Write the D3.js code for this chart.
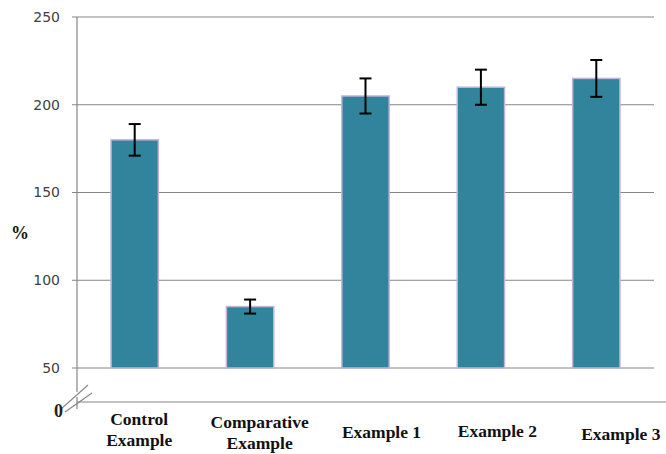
<!DOCTYPE html>
<html><head><meta charset="utf-8">
<script src="https://cdn.jsdelivr.net/npm/d3@7"></script>
<style>body{margin:0;background:#fff}svg{display:block}</style>
</head><body>
<svg id="c" width="666" height="454"></svg>
<script>
const categories = [["Control","Example"],["Comparative","Example"],["Example 1"],["Example 2"],["Example 3"]];
const values = [180, 85, 205, 210, 215];
const errors = [9, 4, 10, 10, 10.5];
const yTicks = [50, 100, 150, 200, 250];

const svg = d3.select("#c");
const W = 666, H = 454;
const x0 = 77, x1 = 654;
const y = d3.scaleLinear().domain([50, 250]).range([368, 17]);
const x = d3.scaleBand().domain(d3.range(categories.length)).range([x0, x1]).paddingInner(0.59).paddingOuter(0.295);
const grid = "#868686";

// gridlines
svg.append("g").selectAll("line").data(yTicks).join("line")
  .attr("x1", x0 - 5).attr("x2", x1).attr("y1", d => y(d)).attr("y2", d => y(d))
  .attr("stroke", grid).attr("stroke-width", 1.2);
// tick labels
svg.append("g").selectAll("text").data(yTicks).join("text")
  .attr("x", 60).attr("y", d => y(d)).attr("dy", "0.35em").attr("text-anchor", "end")
  .attr("font-family", "DejaVu Sans").attr("font-size", 14).attr("fill", "#404040").text(d => d);

// y axis with break
const yBase = 402;
svg.append("line").attr("x1", x0).attr("x2", x0).attr("y1", y(250)).attr("y2", 392).attr("stroke", grid).attr("stroke-width", 1.2);
svg.append("line").attr("x1", x0).attr("x2", x0).attr("y1", 397).attr("y2", 409).attr("stroke", grid).attr("stroke-width", 1.2);
svg.append("line").attr("x1", x0).attr("x2", W).attr("y1", yBase).attr("y2", yBase).attr("stroke", grid).attr("stroke-width", 1.2);
svg.append("line").attr("x1", 61).attr("y1", 409).attr("x2", 88).attr("y2", 385).attr("stroke", grid).attr("stroke-width", 1.2);
svg.append("line").attr("x1", 65).attr("y1", 412).attr("x2", 92).attr("y2", 393).attr("stroke", grid).attr("stroke-width", 1.2);
svg.append("text").attr("x", 63).attr("y", 417).attr("text-anchor", "end")
  .attr("font-family", "Liberation Serif").attr("font-weight", "bold").attr("font-size", 18).attr("fill", "#222").text("0");

// bars
svg.append("g").selectAll("rect").data(values).join("rect")
  .attr("x", (d, i) => x(i)).attr("width", x.bandwidth())
  .attr("y", d => y(d)).attr("height", d => y(50) - y(d))
  .attr("fill", "#31849B").attr("stroke", "#C3B3D9").attr("stroke-width", 1.5);

// error bars
const eb = svg.append("g").attr("stroke", "#000").attr("stroke-width", 2);
values.forEach((v, i) => {
  const cx = x(i) + x.bandwidth() / 2;
  eb.append("line").attr("x1", cx).attr("x2", cx).attr("y1", y(v + errors[i])).attr("y2", y(v - errors[i]));
  eb.append("line").attr("x1", cx - 6).attr("x2", cx + 6).attr("y1", y(v + errors[i])).attr("y2", y(v + errors[i]));
  eb.append("line").attr("x1", cx - 6).attr("x2", cx + 6).attr("y1", y(v - errors[i])).attr("y2", y(v - errors[i]));
});

// category labels
const nudgeX = [4.5, 9.5, 16, 16.5, 24.5];
const baseY = [425, 428, 438, 437, 440];
categories.forEach((lines, i) => {
  const t = svg.append("text").attr("text-anchor", "middle")
    .attr("font-family", "Liberation Serif").attr("font-weight", "bold").attr("font-size", 17.5).attr("fill", "#111");
  lines.forEach((ln, j) => t.append("tspan").attr("x", x(i) + x.bandwidth() / 2 + nudgeX[i]).attr("y", baseY[i] + j * 20.5).text(ln));
});

// y label
svg.append("text").attr("x", 20).attr("y", 239).attr("text-anchor", "middle")
  .attr("font-family", "Liberation Serif").attr("font-weight", "bold").attr("font-size", 18).attr("fill", "#111").text("%");
</script>
</body></html>
